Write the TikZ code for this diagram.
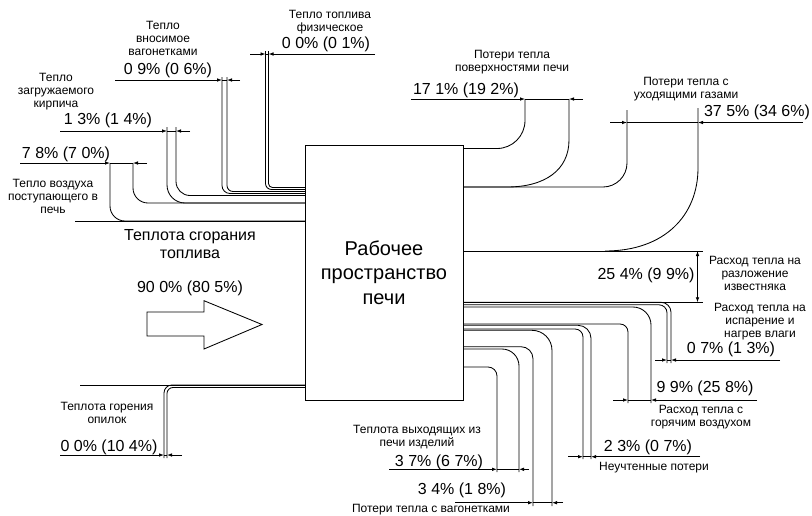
\documentclass[tikz,border=0pt]{standalone}
\usepackage{fontspec}
\setmainfont{Liberation Sans}
\usetikzlibrary{arrows.meta}
\newcommand\mkdim[6]{% name, y, L, x1, x2, R
  \coordinate (#1L) at (#3,#2);
  \coordinate (#1a) at (#4,#2);
  \coordinate (#1b) at (#5,#2);
  \coordinate (#1R) at (#6,#2);
  \draw[ln,tipr] (#1L) -- (#1a);
  \draw[ln,tipr] (#1R) -- (#1b);
  \draw[ln] (#1a) -- (#1b);}
\begin{document}
\begin{tikzpicture}[x=1pt,y=-1pt,
  ln/.style={line width=0.85pt, black},
  tipr/.style={-{Latex[length=5pt,width=3.6pt]}},
  lab/.style={font=\fontsize{12}{13}\selectfont, align=center, inner sep=0pt},
  pct/.style={font=\fontsize{16}{18}\selectfont, inner sep=0pt},
  ]
\useasboundingbox (0,0) rectangle (812,515);

% ---------- main box
\node[draw, line width=1pt, minimum width=158pt, minimum height=255pt, inner sep=0pt,
      font=\fontsize{20}{24.5}\selectfont, align=center] (box) at (384,272.5)
      {Рабочее\\пространство\\печи};

% ---------- inflows on the left
\draw[ln] (75,221) -- (305,221);
\draw[ln] (80,385) -- (305,385);
\draw[ln,rounded corners=15] (110,163) |- (305,221);
\draw[ln,rounded corners=15] (133,163) |- (305,203);
\draw[ln,rounded corners=18] (167,127) |- (305,203);
\draw[ln,rounded corners=14] (176,127) |- (305,195.5);
\draw[ln,rounded corners=8] (222,77) |- (305,193.5);
\draw[ln,rounded corners=6] (227,77) |- (305,191.5);
\draw[ln,rounded corners=6] (265.5,51) |- (305,189.5);
\draw[ln,rounded corners=4] (268.5,51) |- (305,187.5);
\draw[ln,rounded corners=8] (164,458) |- (305,385);
\draw[ln,rounded corners=6] (167,458) |- (305,387.5);

% combustion block arrow
\draw[line width=0.85pt] (147,312) -- (204,312) -- (204,300.7) -- (262,324.5) -- (204,349) -- (204,336) -- (147,336) -- cycle;

% ---------- outflows top right
\draw[ln,rounded corners=28] (463,148.5) -| (525,99);
\draw[ln] (463,187) -- (507,187) .. controls (545,187) and (569,170) .. (569,140) -- (569,99);
\draw[ln,rounded corners=24] (463,187) -| (627,110);
\draw[ln] (463,251) -- (703,251);
\draw[ln] (605,251) .. controls (665,251) and (698,215) .. (698,168) -- (698,108);
\draw[ln] (463,302.3) -- (703,302.3);
\draw[ln,{Latex[length=5pt,width=3.6pt]}-{Latex[length=5pt,width=3.6pt]}] (697.5,251) -- (697.5,302.3);

% ---------- outflows bottom right
\draw[ln,rounded corners=10] (463,302.3) -| (671,363);
\draw[ln,rounded corners=8] (463,304.8) -| (667,363);
\draw[ln,rounded corners=18] (463,307) -| (651,403);
\draw[ln,rounded corners=8] (463,324) -| (628,403);
\draw[ln,rounded corners=13] (463,325.3) -| (591,459);
\draw[ln,rounded corners=8] (463,329) -| (583,459);
\draw[ln,rounded corners=20] (463,330.3) -| (552,506);
\draw[ln,rounded corners=12] (463,346.7) -| (533,506);
\draw[ln,rounded corners=17] (463,349) -| (519,472);
\draw[ln,rounded corners=9] (463,367) -| (497,472);

% ---------- dimension lines
\mkdim{air}{163}{20}{110}{133}{147}
\mkdim{kir}{131}{60}{167}{176}{190}
\mkdim{vag}{80}{115}{222}{227}{240}
\mkdim{fiz}{54}{250}{265.5}{268.5}{375}
\mkdim{opi}{455}{60}{164}{167}{182}
\mkdim{pov}{99}{411}{525}{569}{583}
\mkdim{gaz}{122.5}{610}{627}{698}{803}
\mkdim{vla}{360}{655}{667}{671}{780}
\mkdim{voz}{400}{613}{628}{651}{757}
\mkdim{neu}{456.7}{568}{583}{591}{700}
\mkdim{izd}{469.3}{389}{497}{519}{529}
\mkdim{vgl}{502.7}{455}{533}{552}{563}

% ---------- percentages
\node[pct] (pair)  at (66,154)  {7 8\% (7 0\%)};
\node[pct] (pkir)  at (108,120) {1 3\% (1 4\%)};
\node[pct] (pvag)  at (168,70)  {0 9\% (0 6\%)};
\node[pct] (pfiz)  at (326,44)  {0 0\% (0 1\%)};
\node[pct] (pcomb) at (190,288) {90 0\% (80 5\%)};
\node[pct] (popi)  at (109,447) {0 0\% (10 4\%)};
\node[pct] (ppov)  at (466,90)  {17 1\% (19 2\%)};
\node[pct] (pgaz)  at (757,112) {37 5\% (34 6\%)};
\node[pct] (pizv)  at (646,275) {25 4\% (9 9\%)};
\node[pct] (pvla)  at (731,349) {0 7\% (1 3\%)};
\node[pct] (pvoz)  at (705,388) {9 9\% (25 8\%)};
\node[pct] (pneu)  at (648,447) {2 3\% (0 7\%)};
\node[pct] (pizd)  at (439,462) {3 7\% (6 7\%)};
\node[pct] (pvgl)  at (462,490) {3 4\% (1 8\%)};

% ---------- labels
\node[lab] (lkir) at (56,92)   {Тепло\\загружаемого\\кирпича};
\node[lab] (lvag) at (163,38)  {Тепло\\вносимое\\вагонетками};
\node[lab] (lfiz) at (330,22)  {Тепло топлива\\физическое};
\node[lab] (lair) at (53,196)  {Тепло воздуха\\поступающего в\\печь};
\node[lab, font=\fontsize{16}{18}\selectfont] (lcomb) at (190,244) {Теплота сгорания\\топлива};
\node[lab] (lopi) at (107,413) {Теплота горения\\опилок};
\node[lab] (lpov) at (512,62)  {Потери тепла\\поверхностями печи};
\node[lab] (lgaz) at (686,89)  {Потери тепла с\\уходящими газами};
\node[lab] (lizv) at (755,273.5) {Расход тепла на\\разложение\\известняка};
\node[lab] (lvla) at (760,322) {Расход тепла на\\испарение и\\нагрев влаги};
\node[lab] (lvoz) at (701,417) {Расход тепла с\\горячим воздухом};
\node[lab] (lneu) at (654,468) {Неучтенные потери};
\node[lab] (lizd) at (417,437) {Теплота выходящих из\\печи изделий};
\node[lab] (lvgl) at (431,510) {Потери тепла с вагонетками};
\end{tikzpicture}
\end{document}
